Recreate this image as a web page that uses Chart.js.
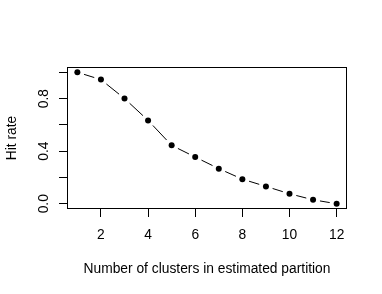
<!DOCTYPE html>
<html>
<head>
<meta charset="utf-8">
<script src="https://cdn.jsdelivr.net/npm/chart.js@4.4.1/dist/chart.umd.min.js"></script>
<style>
    body { margin: 0; background: #fff; }
</style>
</head>
<body>
<canvas id="hitChart" width="382" height="294"></canvas>
<script>
// Data
const clusters = [1, 2, 3, 4, 5, 6, 7, 8, 9, 10, 11, 12];
const hitRate = [1.0, 0.944, 0.80, 0.634, 0.444, 0.355, 0.267, 0.187, 0.132, 0.076, 0.030, 0.0];

// Axis ticks (R style: tick marks everywhere, labels only where they fit)
const xTicks = [2, 4, 6, 8, 10, 12];
const yTicks = [0, 0.2, 0.4, 0.6, 0.8, 1.0];
const yLabelValues = [0, 0.4, 0.8];
const yLabels = ['0.0', '0.4', '0.8'];

const FONT = '"Liberation Sans", Arial, Helvetica, sans-serif';
const FONT_SIZE = 13.8;

// Dashed "type = b" line, box and rotated y labels like base R graphics
const rPlotStyle = {
    id: 'rPlotStyle',
    beforeDatasetsDraw(chart) {
        const ctx = chart.ctx;
        const pts = chart.getDatasetMeta(0).data;
        const gap = 7;
        ctx.save();
        ctx.strokeStyle = '#000';
        ctx.lineWidth = 1;
        ctx.setLineDash([20, 6]);
        for (let i = 0; i < pts.length - 1; i++) {
            const a = pts[i], b = pts[i + 1];
            const dx = b.x - a.x, dy = b.y - a.y;
            const len = Math.hypot(dx, dy);
            if (len <= gap * 2) continue;
            const ux = dx / len, uy = dy / len;
            ctx.lineDashOffset = 0;
            ctx.beginPath();
            ctx.moveTo(a.x + ux * gap, a.y + uy * gap);
            ctx.lineTo(b.x - ux * gap, b.y - uy * gap);
            ctx.stroke();
        }
        ctx.restore();
    },
    afterDraw(chart) {
        const { ctx, chartArea } = chart;
        const ys = chart.scales.y;
        ctx.save();
        ctx.strokeStyle = '#000';
        ctx.lineWidth = 1;
        ctx.strokeRect(Math.round(chartArea.left) + 0.5, Math.round(chartArea.top) + 0.5,
            Math.round(chartArea.right - chartArea.left) - 1, Math.round(chartArea.bottom - chartArea.top) - 1);

        ctx.font = FONT_SIZE + 'px ' + FONT;
        ctx.fillStyle = '#000';
        ctx.textAlign = 'center';
        ctx.textBaseline = 'middle';
        yLabelValues.forEach(function (v, i) {
            const py = ys.getPixelForValue(v);
            ctx.save();
            ctx.translate(chartArea.left - 23, py);
            ctx.rotate(-Math.PI / 2);
            ctx.fillText(yLabels[i], 0, 0);
            ctx.restore();
        });
        ctx.restore();
    }
};

new Chart(document.getElementById('hitChart'), {
    type: 'scatter',
    data: {
        datasets: [{
            data: clusters.map((c, i) => ({ x: c, y: hitRate[i] })),
            showLine: false,
            pointRadius: 3,
            pointBorderWidth: 0,
            pointBackgroundColor: '#000',
            pointBorderColor: '#000'
        }]
    },
    options: {
        responsive: false,
        animation: false,
        events: [],
        layout: { padding: { left: 0, top: 67, right: 35, bottom: 0 } },
        plugins: { legend: { display: false }, tooltip: { enabled: false } },
        scales: {
            x: {
                type: 'linear',
                min: 0.56,
                max: 12.44,
                afterBuildTicks: function (s) { s.ticks = xTicks.map(v => ({ value: v })); },
                afterFit: function (s) { s.height = 85; },
                border: { display: false },
                grid: { drawOnChartArea: false, drawTicks: true, tickLength: 8, color: '#000', lineWidth: 1 },
                ticks: {
                    color: '#000',
                    font: { family: FONT, size: FONT_SIZE },
                    padding: 9.5,
                    maxRotation: 0,
                    autoSkip: false
                },
                title: {
                    display: true,
                    text: 'Number of clusters in estimated partition',
                    color: '#000',
                    font: { family: FONT, size: FONT_SIZE },
                    padding: { top: 0, bottom: 16.5 }
                }
            },
            y: {
                min: -0.04,
                max: 1.04,
                afterBuildTicks: function (s) { s.ticks = yTicks.map(v => ({ value: v })); },
                afterFit: function (s) { s.width = 67; },
                border: { display: false },
                grid: { drawOnChartArea: false, drawTicks: true, tickLength: 8, color: '#000', lineWidth: 1 },
                ticks: { display: false },
                title: {
                    display: true,
                    text: 'Hit rate',
                    color: '#000',
                    font: { family: FONT, size: FONT_SIZE },
                    padding: { top: 3.5, bottom: 0 }
                }
            }
        }
    },
    plugins: [rPlotStyle]
});
</script>
</body>
</html>
